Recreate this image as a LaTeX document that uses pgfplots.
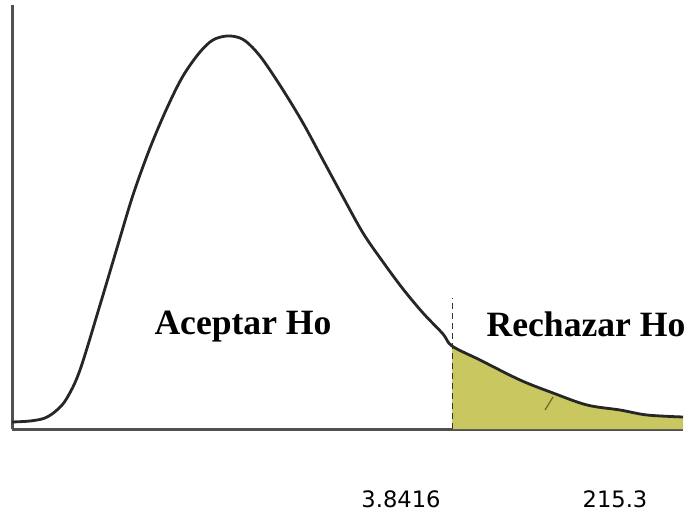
\documentclass[border=0pt]{standalone}
\usepackage{pgfplots}
\pgfplotsset{compat=1.18}
\usepackage{fontspec}
\newfontfamily\serifb{Liberation Serif}
\newfontfamily\tahomalike{DejaVu Sans}
\definecolor{rechazo}{RGB}{201,199,96}
\definecolor{ejes}{RGB}{80,80,80}

\begin{document}
\begin{tikzpicture}
% picture = 689x513 px at 0.5pt per px
\useasboundingbox (-6pt,-42pt) rectangle (338.5pt,214.5pt);
\begin{axis}[
    scale only axis,
    width=335.5pt,
    height=212pt,
    xmin=0, xmax=671,
    ymin=0, ymax=424,
    axis x line=bottom,
    axis y line=left,
    x axis line style={draw=ejes, line width=1.5pt, -},
    y axis line style={draw=ejes, line width=1.5pt, -},
    xtick=\empty, ytick=\empty,
    clip=false,
]
    % cola de rechazo
    \addplot[fill=rechazo, draw=none] coordinates {
        (440,83) (468,69) (508,49) (541,36) (575,24) (608,19) (635,14) (671,12)
    } \closedcycle;

    % curva
    \addplot[black!85, line width=1.4pt, smooth, tension=0.55] coordinates {
        (0,7) (18,8) (33,11) (45,19) (55,31) (68,59) (88,124) (105,181)
        (121,234) (138,281) (155,321) (171,353) (188,377) (201,389)
        (215,393) (228,391) (238,384) (251,369) (271,339) (291,306)
        (311,269) (331,232) (351,196) (371,167) (391,140) (411,116)
        (431,95) (440,83) (468,69) (508,49) (541,36) (575,24) (608,19)
        (635,14) (671,12)
    };

    % valor critico
    \addplot[black!80, thin, densely dashed] coordinates {(440,0) (440,131)};
    \addplot[olive!70!black, line width=0.6pt] coordinates {(533,19) (541,32)};

    \node[anchor=base, font=\serifb\bfseries\fontsize{17.8}{20}\selectfont]
        at (axis cs:231,94) {Aceptar Ho};
    \node[anchor=base, font=\serifb\bfseries\fontsize{17.8}{20}\selectfont]
        at (axis cs:574,92) {Rechazar Ho};

    \node[anchor=base, font=\tahomalike\fontsize{11.3}{13}\selectfont]
        at (axis cs:389,-78) {3.8416};
    \node[anchor=base, font=\tahomalike\fontsize{11.3}{13}\selectfont]
        at (axis cs:603,-78) {215.3};
\end{axis}
\end{tikzpicture}
\end{document}
